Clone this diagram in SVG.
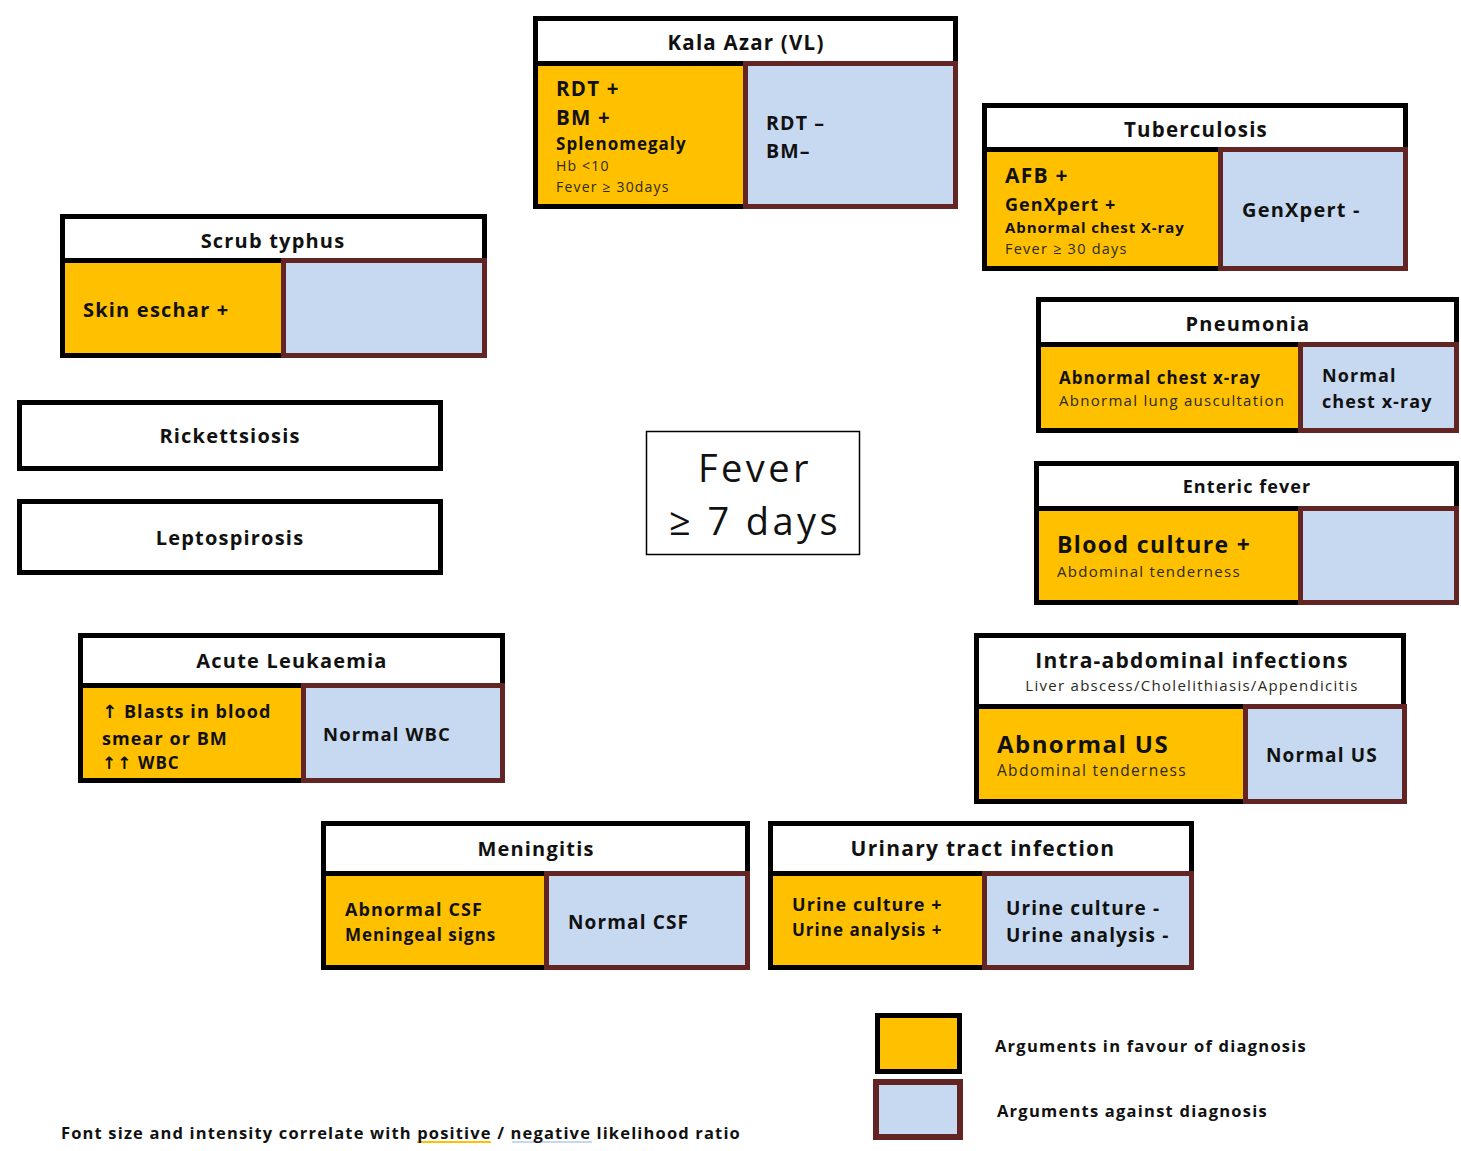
<svg xmlns="http://www.w3.org/2000/svg" width="1461" height="1151" viewBox="0 0 1461 1151">
<style>
text{font-family:"Open Sans","DejaVu Sans",sans-serif;fill:#111;letter-spacing:0.06em;}
.b{font-weight:700;}
.n{font-weight:400;fill:#2a2a1a;letter-spacing:0.085em;}
.t{font-weight:700;text-anchor:middle;}
.hd{fill:#fff;stroke:#000;stroke-width:5;}
.yl{fill:#FFC000;stroke:#000;stroke-width:5;}
.bl{fill:#C6D9F0;stroke:#632523;stroke-width:5;}
</style>
<rect width="1461" height="1151" fill="#fff"/>

<g id="center">
<rect x="646.5" y="431.5" width="213" height="123" fill="#fff" stroke="#000" stroke-width="1.5"/>
<text x="755" y="482" font-size="38" text-anchor="middle" style="letter-spacing:0.09em">Fever</text>
<text x="755" y="535" font-size="38" text-anchor="middle" style="letter-spacing:0.09em">≥ 7 days</text>
</g>

<g id="kala-azar">
<rect class="hd" x="535.5" y="18.5" width="420" height="45"/>
<rect class="yl" x="535.5" y="63.5" width="210" height="143"/>
<rect class="bl" x="745.5" y="63.5" width="210" height="143"/>
<text class="t" x="746" y="50" font-size="20.5">Kala Azar (VL)</text>
<text class="b" x="556" y="96" font-size="20.5">RDT +</text>
<text class="b" x="556" y="125" font-size="20.5">BM +</text>
<text class="b" x="556" y="150" font-size="17">Splenomegaly</text>
<text class="n" x="556" y="171" font-size="14">Hb &lt;10</text>
<text class="n" x="556" y="192" font-size="14">Fever ≥ 30days</text>
<text class="b" x="766" y="130" font-size="19.5">RDT –</text>
<text class="b" x="766" y="158" font-size="19.5">BM–</text>
</g>

<g id="tuberculosis">
<rect class="hd" x="984.5" y="105.5" width="421" height="44"/>
<rect class="yl" x="984.5" y="149.5" width="236" height="119"/>
<rect class="bl" x="1220.5" y="149.5" width="185" height="119"/>
<text class="t" x="1196" y="137" font-size="20.5">Tuberculosis</text>
<text class="b" x="1005" y="183" font-size="21">AFB +</text>
<text class="b" x="1005" y="211" font-size="18">GenXpert +</text>
<text class="b" x="1005" y="233" font-size="15">Abnormal chest X-ray</text>
<text class="n" x="1005" y="254" font-size="14.5">Fever ≥ 30 days</text>
<text class="b" x="1242" y="217" font-size="20">GenXpert -</text>
</g>

<g id="scrub-typhus">
<rect class="hd" x="62.5" y="216.5" width="422" height="44"/>
<rect class="yl" x="62.5" y="260.5" width="221" height="95"/>
<rect class="bl" x="283.5" y="260.5" width="201" height="95"/>
<text class="t" x="273" y="248" font-size="20">Scrub typhus</text>
<text class="b" x="83" y="317" font-size="20">Skin eschar +</text>
</g>

<g id="rickettsiosis">
<rect class="hd" x="19.5" y="402.5" width="421" height="66"/>
<text class="t" x="230" y="443" font-size="20">Rickettsiosis</text>
</g>

<g id="leptospirosis">
<rect class="hd" x="19.5" y="501.5" width="421" height="71"/>
<text class="t" x="230" y="545" font-size="20">Leptospirosis</text>
</g>

<g id="pneumonia">
<rect class="hd" x="1038.5" y="299.5" width="418" height="45"/>
<rect class="yl" x="1038.5" y="344.5" width="262" height="86"/>
<rect class="bl" x="1300.5" y="344.5" width="156" height="86"/>
<text class="t" x="1248" y="331" font-size="20">Pneumonia</text>
<text class="b" x="1059" y="384" font-size="17">Abnormal chest x-ray</text>
<text class="n" x="1059" y="406" font-size="15">Abnormal lung auscultation</text>
<text class="b" x="1322" y="382" font-size="18">Normal</text>
<text class="b" x="1322" y="408" font-size="18">chest x-ray</text>
</g>

<g id="enteric-fever">
<rect class="hd" x="1036.5" y="463.5" width="420" height="45"/>
<rect class="yl" x="1036.5" y="508.5" width="264" height="94"/>
<rect class="bl" x="1300.5" y="508.5" width="156" height="94"/>
<text class="t" x="1247" y="493" font-size="18">Enteric fever</text>
<text class="b" x="1057" y="553" font-size="23">Blood culture +</text>
<text class="n" x="1057" y="577" font-size="15">Abdominal tenderness</text>
</g>

<g id="intra-abdominal">
<rect class="hd" x="976.5" y="635.5" width="427" height="71"/>
<rect class="yl" x="976.5" y="706.5" width="269" height="95"/>
<rect class="bl" x="1245.5" y="706.5" width="159" height="95"/>
<text class="t" x="1192" y="668" font-size="21">Intra-abdominal infections</text>
<text class="n" x="1192" y="691" font-size="15" text-anchor="middle">Liver abscess/Cholelithiasis/Appendicitis</text>
<text class="b" x="997" y="753" font-size="24">Abnormal US</text>
<text class="n" x="997" y="776" font-size="15.5">Abdominal tenderness</text>
<text class="b" x="1266" y="762" font-size="19">Normal US</text>
</g>

<g id="acute-leukaemia">
<rect class="hd" x="80.5" y="635.5" width="422" height="50"/>
<rect class="yl" x="80.5" y="685.5" width="223" height="95"/>
<rect class="bl" x="303.5" y="685.5" width="199" height="95"/>
<text class="t" x="292" y="668" font-size="20">Acute Leukaemia</text>
<text class="b" x="102" y="718" font-size="18">↑ Blasts in blood</text>
<text class="b" x="102" y="745" font-size="18">smear or BM</text>
<text class="b" x="102" y="769" font-size="17">↑↑ WBC</text>
<text class="b" x="323" y="741" font-size="18.5">Normal WBC</text>
</g>

<g id="meningitis">
<rect class="hd" x="323.5" y="823.5" width="424" height="50"/>
<rect class="yl" x="323.5" y="873.5" width="223" height="94"/>
<rect class="bl" x="546.5" y="873.5" width="201" height="94"/>
<text class="t" x="536" y="856" font-size="20">Meningitis</text>
<text class="b" x="345" y="916" font-size="18">Abnormal CSF</text>
<text class="b" x="345" y="941" font-size="17">Meningeal signs</text>
<text class="b" x="568" y="929" font-size="19">Normal CSF</text>
</g>

<g id="uti">
<rect class="hd" x="770.5" y="823.5" width="421" height="50"/>
<rect class="yl" x="770.5" y="873.5" width="214" height="94"/>
<rect class="bl" x="984.5" y="873.5" width="207" height="94"/>
<text class="t" x="983" y="856" font-size="21">Urinary tract infection</text>
<text class="b" x="792" y="911" font-size="18">Urine culture +</text>
<text class="b" x="792" y="936" font-size="17">Urine analysis +</text>
<text class="b" x="1006" y="915" font-size="19">Urine culture -</text>
<text class="b" x="1006" y="942" font-size="19">Urine analysis -</text>
</g>

<g id="connectors"></g>

<g id="legend">
<rect class="yl" x="877.5" y="1015.5" width="82" height="56"/>
<rect x="876" y="1082" width="84" height="55" fill="#C6D9F0" stroke="#632523" stroke-width="6"/>
<text class="b" x="995" y="1052" font-size="16.5" style="letter-spacing:0.075em">Arguments in favour of diagnosis</text>
<text class="b" x="997" y="1117" font-size="16.5" style="letter-spacing:0.075em">Arguments against diagnosis</text>
</g>

<g id="footnote">
<line x1="417" y1="1142" x2="491" y2="1142" stroke="#FFC000" stroke-width="2"/>
<line x1="512" y1="1142" x2="592" y2="1142" stroke="#C6D9F0" stroke-width="2"/>
<text class="b" x="61" y="1139" font-size="16.5" style="letter-spacing:0.07em">Font size and intensity correlate with positive / negative likelihood ratio</text>
</g>
</svg>
